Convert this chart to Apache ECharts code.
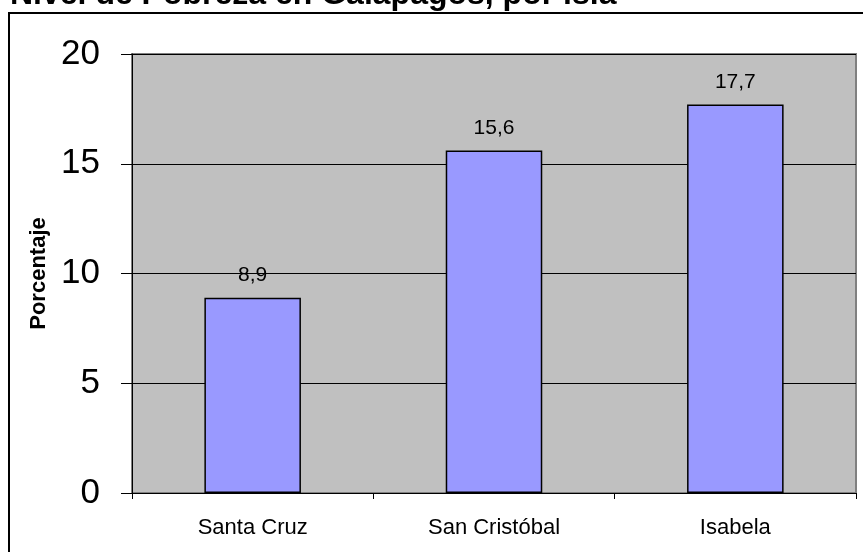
<!DOCTYPE html>
<html>
<head>
<meta charset="utf-8">
<script src="https://cdn.jsdelivr.net/npm/echarts@6/dist/echarts.min.js"></script>
<style>
  html, body { margin: 0; padding: 0; background: #fff; }
  #chart { width: 863px; height: 552px; }
</style>
</head>
<body>
<div id="chart"></div>
<script>
const islas = ['Santa Cruz', 'San Cristóbal', 'Isabela'];
const pobreza = [8.9, 15.6, 17.7];
const yMin = 0, yMax = 20, yStep = 5;

const chart = echarts.init(document.getElementById('chart'));
const font = 'Arial, "Liberation Sans", sans-serif';

chart.setOption({
    backgroundColor: '#ffffff',
    animation: false,
    title: {
        text: 'Nivel de Pobreza en Galápagos, por isla',
        left: 10,
        top: -21,
        padding: 0,
        textStyle: { fontFamily: font, fontSize: 32, fontWeight: 'bold', color: '#000' }
    },
    // outer chart frame, partly cut by the window
    graphic: [{
        type: 'rect',
        shape: { x: 9, y: 13, width: 900, height: 600 },
        style: { fill: 'none', stroke: '#000', lineWidth: 2 },
        z: -1
    }],
    grid: {
        left: 132, right: 7, top: 54, bottom: 59,
        show: true,
        backgroundColor: '#c0c0c0',
        borderColor: '#808080',
        borderWidth: 2
    },
    xAxis: {
        type: 'category',
        data: islas,
        axisLine: { lineStyle: { color: '#000', width: 1 } },
        axisTick: { show: true, length: 6, lineStyle: { color: '#000' } },
        axisLabel: { margin: 24, fontFamily: font, fontSize: 22, color: '#000' }
    },
    yAxis: {
        type: 'value',
        min: yMin, max: yMax, interval: yStep,
        name: 'Porcentaje',
        nameLocation: 'middle',
        nameRotate: 90,
        nameGap: 70,
        nameTextStyle: { fontFamily: font, fontSize: 22, fontWeight: 'bold', color: '#000' },
        axisLine: { show: true, lineStyle: { color: '#000', width: 1 } },
        axisTick: { show: true, length: 11, lineStyle: { color: '#000' } },
        axisLabel: { margin: 32, fontFamily: font, fontSize: 35, color: '#000' },
        splitLine: { show: true, lineStyle: { color: '#000', width: 1 } }
    },
    series: [{
        type: 'bar',
        data: pobreza,
        barWidth: '40%',
        itemStyle: { color: '#9999ff', borderColor: '#000', borderWidth: 1.5 },
        label: {
            show: true,
            position: 'top',
            distance: 12,
            fontFamily: font,
            fontSize: 21,
            color: '#000',
            formatter: p => String(p.value).replace('.', ',')
        }
    }]
});
</script>
</body>
</html>
